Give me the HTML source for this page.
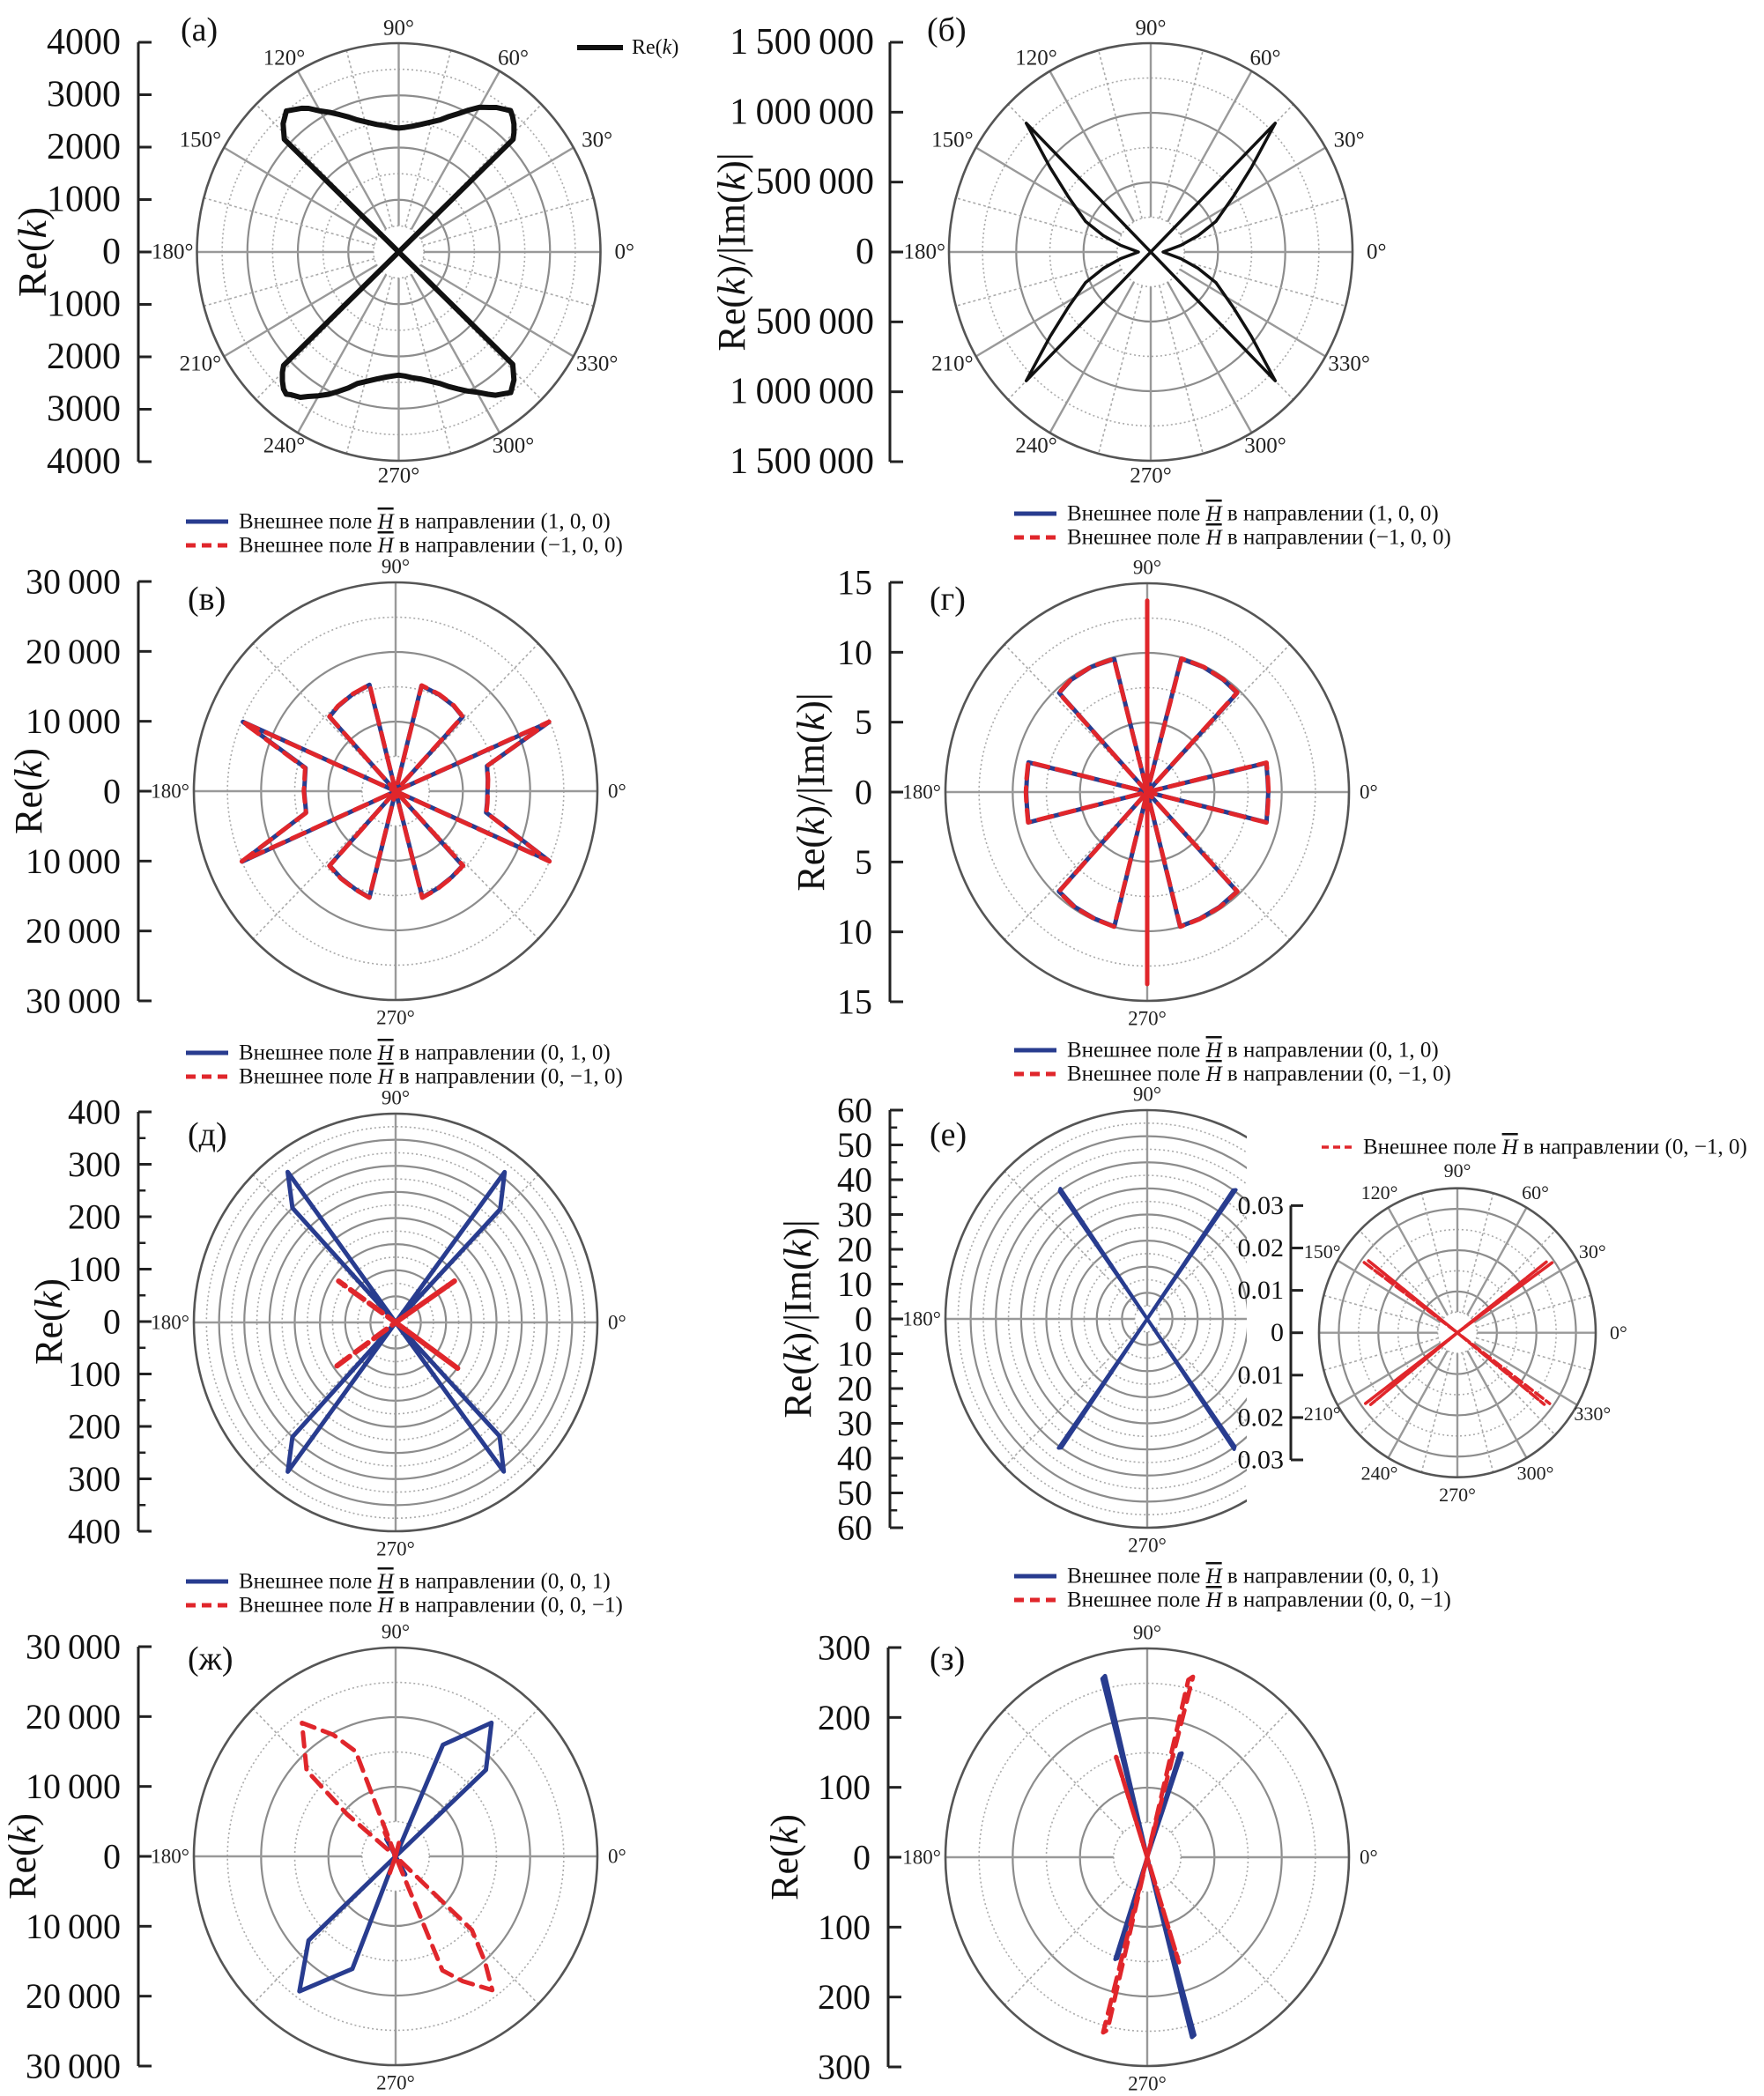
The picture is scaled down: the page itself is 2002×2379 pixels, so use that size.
<!DOCTYPE html>
<html><head><meta charset="utf-8"><title>Polar plots</title>
<style>
html,body{margin:0;padding:0;background:#fff;}
svg{display:block;font-family:"Liberation Serif",serif;}
</style></head>
<body>
<svg id="chart" xmlns="http://www.w3.org/2000/svg" width="2002" height="2379" viewBox="0 0 2002 2379">
<rect x="0" y="0" width="2002" height="2379" fill="#fff"/>
</svg>
<script>
// ---------- DATA ----------
// (а) Re(k)
const aAngles=[0,43.6,45,47,49,50.7,52,55,57,60,63,66,69,72,76,80,84,87,90,93,96,100,104,108,111,114,117,120,123,125,128,129.5,133,136.4,0,223.6,225,227,229,230.7,232,235,237,240,243,246,249,252,256,260,264,267,270,273,276,280,284,288,291,294,297,300,303,305,308,309.5,313,316.4,0];
const aRadii=[0,3130,3230,3350,3440,3500,3460,3380,3300,3200,3050,2900,2780,2660,2560,2480,2420,2390,2373,2390,2430,2480,2560,2660,2770,2880,3000,3120,3280,3360,3450,3500,3360,3130,0,3150,3260,3380,3480,3520,3470,3400,3300,3180,3060,2920,2790,2650,2550,2470,2410,2380,2360,2380,2420,2470,2550,2650,2760,2870,2990,3100,3250,3350,3440,3490,3350,3120,0];
const aTicks=[4000,3000,2000,1000,0,-1000,-2000,-3000,-4000];
const aTickLabels=['4000','3000','2000','1000','0','1000','2000','3000','4000'];
// (б) Re(k)/|Im(k)|
const bAngles=[0,45,39,33.1,24.4,18.5,12,0,348,341.5,335.6,326.9,321,315,0,135,141,146.9,155.6,161.5,168,180,192,198.5,204.4,213.1,219,225,0];
const bRadii=[0,1309000,962000,735000,532000,373000,230000,92000,230000,373000,532000,735000,962000,1309000,0,1309000,962000,735000,532000,373000,230000,92000,230000,373000,532000,735000,962000,1309000,0];
const bTicks=[1500000,1000000,500000,0,-500000,-1000000,-1500000];
const bTickLabels=['1\u2009500\u2009000','1\u2009000\u2009000','500\u2009000','0','500\u2009000','1\u2009000\u2009000','1\u2009500\u2009000'];
// (в)
const vBlueAngles=[0,23.5,14.9,7,0,353,347.2,336.3,0,47,55,65,75.8,0,104.3,115,125,132.6,0,156.3,166,180,193,203.9,0,227.4,237,247,255.7,0,284.6,294,304,313,0];
const vBlueRadii=[0,24800,14060,13800,13670,13700,13800,24950,0,14600,15000,15300,15630,0,15770,15300,14900,14530,0,24800,13800,13600,13660,24950,0,14530,14900,15300,15770,0,15790,15300,14900,14620,0];
const vRedAngles=[0,23.6,15,7,0,353,347,336.2,0,47.2,55,65,75.7,0,104.2,115,125,132.5,0,156.4,166.2,180,193.2,203.8,0,227.5,237,247,255.6,0,284.5,294,304,313.2,0];
const vRedRadii=[0,24900,14100,13850,13700,13750,13850,25000,0,14650,15050,15350,15680,0,15800,15350,14950,14560,0,24850,13850,13650,13700,25000,0,14560,14950,15350,15800,0,15820,15350,14950,14650,0];
const vTicks=[30000,20000,10000,0,-10000,-20000,-30000];
const vTickLabels=['30\u2009000','20\u2009000','10\u2009000','0','10\u2009000','20\u2009000','30\u2009000'];
// (г)
const gBlueAngles=[0,13.3,6,0,354,346.2,0,46.8,55,65,75.2,0,90,0,104.4,115,125,132.6,0,166.4,174,180,186,193.9,0,227.4,237,247,255.8,0,270,0,284.2,293,303,313.1,0];
const gBlueRadii=[0,9.1,9.0,9.0,9.0,9.13,0,9.77,9.85,9.9,9.9,0,13.67,0,9.87,9.9,9.85,9.67,0,9.08,9.0,9.0,9.0,9.1,0,9.7,9.85,9.9,9.96,0,13.7,0,9.96,9.9,9.85,9.78,0];
const gRedAngles=[0,13.4,6,0,354,346.1,0,46.9,55,65,75.1,0,90,0,104.5,115,125,132.7,0,166.3,174,180,186,193.8,0,227.5,237,247,255.7,0,270,0,284.3,293,303,313.2,0];
const gRedRadii=[0,9.12,9.02,9.02,9.02,9.15,0,9.8,9.88,9.92,9.93,0,13.75,0,9.9,9.92,9.88,9.7,0,9.1,9.02,9.02,9.02,9.12,0,9.72,9.88,9.92,9.98,0,13.8,0,9.98,9.92,9.88,9.8,0];
const gTicks=[15,10,5,0,-5,-10,-15];
const gTickLabels=['15','10','5','0','5','10','15'];
// (д)
const dBlueAngles=[0,46.3,53.1,0,126.6,133,0,227,233.2,0,306.9,313.4,0];
const dBlueRadii=[0,300,360,0,359,300,0,300,357,0,357,300,0];
const dRedAngles=[0,34.2,0,145,0,215.6,0,324.5,0];
const dRedRadii=[0,141,0,138,0,150,0,151,0];
const dTicks=[400,300,200,100,0,-100,-200,-300,-400];
const dTickLabels=['400','300','200','100','0','100','200','300','400'];
// (е)
const eBlueAngles=[0,54.6,55.4,0,124.6,125.4,0,234.6,235.4,0,304.6,305.4,0];
const eBlueRadii=[0,45.5,45,0,45.5,45,0,45.5,45,0,45.5,45,0];
const eTicks=[60,50,40,30,20,10,0,-10,-20,-30,-40,-50,-60];
const eTickLabels=['60','50','40','30','20','10','0','10','20','30','40','50','60'];
const eInsetRedAngles1=[0,35.3,0,144.2,0,216.4,0,323.7,0];
const eInsetRedRadii1=[0,0.0295,0,0.0295,0,0.029,0,0.029,0];
const eInsetRedAngles2=[0,37.3,0,142.2,0,218.4,0,321.7,0];
const eInsetRedRadii2=[0,0.0285,0,0.0285,0,0.028,0,0.028,0];
const eInsetTicks=[0.03,0.02,0.01,0,-0.01,-0.02,-0.03];
const eInsetTickLabels=['0.03','0.02','0.01','0','0.01','0.02','0.03'];
// (ж)
const zhBlueAngles=[0,42.8,53.4,66.3,0,119,0,223,233.6,248.3,0,299,0];
const zhBlueRadii=[0,18300,23900,17500,0,2850,0,17700,24100,17400,0,2950,0];
const zhRedAngles=[0,111.5,118,126,137,140,0,250,0,293,299,306.8,311.3,317,0,76,0,115,0];
const zhRedRadii=[0,16200,19800,23700,18100,9400,0,2800,0,17800,20500,24000,20100,15500,0,2000,0,3800,0];
const zhTicks=[30000,20000,10000,0,-10000,-20000,-30000];
const zhTickLabels=['30\u2009000','20\u2009000','10\u2009000','0','10\u2009000','20\u2009000','30\u2009000'];
// (з)
const zBlueAngles=[0,103.5,104.6,0,71,72,0,252,253,0,284.4,285.4,0];
const zBlueRadii=[0,268,265,0,158,156,0,154,152,0,267,265,0];
const zRedAngles=[0,75.3,76.5,0,107.8,0,255.4,256.6,0,287.3,0];
const zRedRadii=[0,268,262,0,153,0,260,255,0,158,0];
const zTicks=[300,200,100,0,-100,-200,-300];
const zTickLabels=['300','200','100','0','100','200','300'];

// ---------- HELPERS ----------
const NS='http://www.w3.org/2000/svg';
const svg=document.getElementById('chart');
function el(tag,attrs,parent){const e=document.createElementNS(NS,tag);for(const k in attrs)e.setAttribute(k,attrs[k]);(parent||svg).appendChild(e);return e;}
function pxy(p,a,r){const f=r/p.rmax,t=a*Math.PI/180;return [p.cx+f*p.rx*Math.cos(t),p.cy-f*p.ry*Math.sin(t)];}
const BLUE='#283c8f',RED='#e0262b';

function drawGrid(p,name){
  const g=el('g',{});
  
  
  p.dot.forEach(f=>{const e=el('ellipse',{cx:p.cx,cy:p.cy,rx:p.rx*f,ry:p.ry*f,fill:'none',stroke:'#aaa','stroke-width':1.6,'stroke-dasharray':'2 3'},g);
    
    });
  p.solid.forEach(f=>{const e=el('ellipse',{cx:p.cx,cy:p.cy,rx:p.rx*f,ry:p.ry*f,fill:'none',stroke:'#8c8c8c','stroke-width':2.2},g);
    
    });
  p.dotSpokes.forEach(a=>{const t=a*Math.PI/180,s=p.spokeStart;
    const e=el('line',{x1:p.cx+p.rx*s*Math.cos(t),y1:p.cy-p.ry*s*Math.sin(t),x2:p.cx+p.rx*Math.cos(t),y2:p.cy-p.ry*Math.sin(t),stroke:'#aaa','stroke-width':1.6,'stroke-dasharray':'3 3'},g);
    
    });
  p.solidSpokes.forEach(a=>{const t=a*Math.PI/180,s=p.spokeStart;
    const e=el('line',{x1:p.cx+p.rx*s*Math.cos(t),y1:p.cy-p.ry*s*Math.sin(t),x2:p.cx+p.rx*Math.cos(t),y2:p.cy-p.ry*Math.sin(t),stroke:'#999','stroke-width':2.4},g);
    
    });
  const o=el('ellipse',{cx:p.cx,cy:p.cy,rx:p.rx,ry:p.ry,fill:'none',stroke:'#555','stroke-width':2.6},g);
  
  
}
function drawAngleLabels(p,full,fs,skip){
  const list=full?[0,30,60,90,120,150,180,210,240,270,300,330]:[0,90,180,270];
  list.forEach(a=>{
    if(skip&&skip.indexOf(a)>=0)return;
    let x,y,anchor='middle';const t=a*Math.PI/180;
    if(a===0){x=p.cx+p.rx+(full?16:12);y=p.cy;anchor='start';}
    else if(a===180){x=p.cx-p.rx-(full?4:5);y=p.cy;anchor='end';}
    else if(full){x=p.cx+(p.rx+p.lo)*Math.cos(t);y=p.cy-(p.ry+p.lov)*Math.sin(t);}
    else{x=p.cx;y=a===90?p.cy-p.ry-18:p.cy+p.ry+20;}
    const e=el('text',{x:x,y:y,'text-anchor':anchor,'dominant-baseline':'central','font-size':fs,fill:'#222'});
    e.textContent=a+'°';
    
    
  });
}
function drawSeries(p,angles,radii,style,name){
  const pts=angles.map((a,i)=>pxy(p,a,radii[i]).map(v=>v.toFixed(1)).join(',')).join(' ');
  const e=el('polyline',Object.assign({points:pts,fill:'none','stroke-linejoin':'round','stroke-linecap':'round'},style));
  
  
}
function drawAxis(ax,vals,labels,vmax,name){
  const g=el('g',{});
  
  
  const line=el('line',{x1:ax.x,y1:ax.cy-ax.half,x2:ax.x,y2:ax.cy+ax.half,stroke:'#222','stroke-width':3},g);
  
  
  vals.forEach((v,i)=>{
    const y=ax.cy-v/vmax*ax.half;
    const tk=el('line',{x1:ax.x,y1:y,x2:ax.x+ax.tl,y2:y,stroke:'#222','stroke-width':3},g);
    
    
    const t=el('text',{x:ax.x-ax.gap,y:y,'text-anchor':'end','dominant-baseline':'central','font-size':ax.fs,fill:'#111'},g);
    t.textContent=labels[i];
    
    
    if(ax.minor&&i<vals.length-1){
      const y2=ax.cy-((v+vals[i+1])/2)/vmax*ax.half;
      const m=el('line',{x1:ax.x,y1:y2,x2:ax.x+ax.tl*0.55,y2:y2,stroke:'#222','stroke-width':2.5},g);
      
      
    }
  });
}
function yTitle(x,cy,html,fs,name){
  const e=el('text',{x:x,y:cy,transform:'rotate(-90 '+x+' '+cy+')','text-anchor':'middle','font-size':fs,fill:'#111'});
  e.innerHTML=html;
  
  
}
function panelLabel(x,y,txt,name){
  const e=el('text',{x:x,y:y,'font-size':38,fill:'#111'});
  e.textContent=txt;
  
  
}
function legendEntry(x,y,color,dashed,dirText,name){
  const g=el('g',{});
  
  
  const l=el('line',Object.assign({x1:x,y1:y,x2:x+48,y2:y,stroke:color,'stroke-width':5},dashed?{'stroke-dasharray':'11 7'}:{}),g);
  
  
  const t=el('text',{x:x+60,y:y,'dominant-baseline':'central','font-size':25,fill:'#111'},g);
  t.innerHTML='Внешнее поле <tspan font-style="italic" text-decoration="overline">H</tspan> в направлении '+dirText;
  
  
}

const K='Re(<tspan font-style="italic">k</tspan>)';
const KR='Re(<tspan font-style="italic">k</tspan>)/|Im(<tspan font-style="italic">k</tspan>)|';
const eighth={solid:[0.25,0.5,0.75],dot:[0.125,0.375,0.625,0.875]};
const sixth={solid:[1/3,2/3],dot:[1/6,0.5,5/6]};
const dense={solid:[0.125,0.25,0.375,0.5,0.625,0.75,0.875],dot:[0.0625,0.1875,0.3125,0.4375,0.5625,0.6875,0.8125,0.9375]};
const spokes30={solidSpokes:[0,30,60,90,120,150,180,210,240,270,300,330],dotSpokes:[15,45,75,105,135,165,195,225,255,285,315,345]};
const spokes90={solidSpokes:[0,90,180,270],dotSpokes:[45,135,225,315]};
function mk(cx,cy,rmax,rings,sp,start){return Object.assign({cx:cx,cy:cy,rx:229,ry:237,rmax:rmax,spokeStart:start,lo:31,lov:17},rings,sp);}

// ---------- (а) ----------
const pA=mk(452.5,286,4000,eighth,spokes30,0.125);
drawGrid(pA,'panel-a');drawAngleLabels(pA,true,25);
drawSeries(pA,aAngles,aRadii,{stroke:'#111','stroke-width':6},'series-re-k');
drawAxis({x:157,cy:286,half:238,tl:15,gap:20,fs:42},aTicks,aTickLabels,4000,'y-axis-a');
yTitle(52,286,K,46,'y-axis-title-a');
panelLabel(205,46,'(а)','panel-label-a');
{const l=el('line',{x1:655,y1:54,x2:707,y2:54,stroke:'#111','stroke-width':6});


const t=el('text',{x:717,y:54,'dominant-baseline':'central','font-size':24,fill:'#111'});t.innerHTML=K;

}

// ---------- (б) ----------
const pB=mk(1306,286,1500000,sixth,spokes30,1/6);
drawGrid(pB,'panel-b');drawAngleLabels(pB,true,25);
drawSeries(pB,bAngles,bRadii,{stroke:'#111','stroke-width':3.5},'series-ratio');
drawAxis({x:1010,cy:286,half:238,tl:15,gap:18,fs:42},bTicks,bTickLabels,1500000,'y-axis-b');
yTitle(845,286,KR,44,'y-axis-title-b');
panelLabel(1052,46,'(б)','panel-label-b');
legendEntry(211,592,BLUE,false,'(1, 0, 0)','legend-a-blue');
legendEntry(211,619,RED,true,'(−1, 0, 0)','legend-a-red');
legendEntry(1151,583,BLUE,false,'(1, 0, 0)','legend-b-blue');
legendEntry(1151,610,RED,true,'(−1, 0, 0)','legend-b-red');

const blueS={stroke:BLUE,'stroke-width':5};
const redS={stroke:RED,'stroke-width':5,'stroke-dasharray':'16 10'};

// ---------- (в) ----------
const pV=mk(449,898,30000,sixth,spokes90,1/6);
drawGrid(pV,'panel-v');drawAngleLabels(pV,false,23);
drawSeries(pV,vBlueAngles,vBlueRadii,blueS,'series-v-blue');
drawSeries(pV,vRedAngles,vRedRadii,redS,'series-v-red');
drawAxis({x:157,cy:898,half:238,tl:15,gap:20,fs:40},vTicks,vTickLabels,30000,'y-axis-v');
yTitle(47,898,K,44,'y-axis-title-v');
panelLabel(213,692,'(в)','panel-label-v');

// ---------- (г) ----------
const pG=mk(1302,899,15,sixth,spokes90,1/6);
drawGrid(pG,'panel-g');drawAngleLabels(pG,false,23);
drawSeries(pG,gBlueAngles,gBlueRadii,blueS,'series-g-blue');
drawSeries(pG,gRedAngles,gRedRadii,redS,'series-g-red');
drawAxis({x:1010,cy:899,half:238,tl:15,gap:20,fs:40},gTicks,gTickLabels,15,'y-axis-g');
yTitle(935,899,KR,44,'y-axis-title-g');
panelLabel(1055,692,'(г)','panel-label-g');
legendEntry(211,1195,BLUE,false,'(0, 1, 0)','legend-v-blue');
legendEntry(211,1222,RED,true,'(0, −1, 0)','legend-v-red');
legendEntry(1151,1192,BLUE,false,'(0, 1, 0)','legend-g-blue');
legendEntry(1151,1219,RED,true,'(0, −1, 0)','legend-g-red');

// ---------- (д) ----------
const pD=mk(449,1501,400,dense,spokes90,0.0625);
drawGrid(pD,'panel-d');drawAngleLabels(pD,false,23);
drawSeries(pD,dBlueAngles,dBlueRadii,blueS,'series-d-blue');
drawSeries(pD,dRedAngles,dRedRadii,{stroke:RED,'stroke-width':6,'stroke-dasharray':'16 10'},'series-d-red');
drawAxis({x:157,cy:1500,half:238,tl:15,gap:20,fs:40,minor:true},dTicks,dTickLabels,400,'y-axis-d');
yTitle(70,1500,K,44,'y-axis-title-d');
panelLabel(213,1300,'(д)','panel-label-d');

// ---------- (е) ----------
const pE=mk(1302,1497,60,dense,spokes90,0.0625);
drawGrid(pE,'panel-e');drawAngleLabels(pE,false,23);
drawSeries(pE,eBlueAngles,eBlueRadii,{stroke:BLUE,'stroke-width':4},'series-e-blue');
drawAxis({x:1010,cy:1497,half:237,tl:15,gap:20,fs:40,minor:true},eTicks,eTickLabels,60,'y-axis-e');
yTitle(920,1497,KR,44,'y-axis-title-e');
panelLabel(1055,1300,'(е)','panel-label-e');
{const r=el('rect',{x:1415,y:1250,width:587,height:515,fill:'#fff'});

}
const pI={cx:1654,cy:1512.7,rx:157,ry:164,rmax:0.035,spokeStart:0.005/0.035,lo:20,lov:20,
  solid:[0.01/0.035,0.02/0.035,0.03/0.035],dot:[0.005/0.035,0.015/0.035,0.025/0.035],
  solidSpokes:spokes30.solidSpokes,dotSpokes:spokes30.dotSpokes};
drawGrid(pI,'inset');drawAngleLabels(pI,true,22,[180]);
drawSeries(pI,eInsetRedAngles1,eInsetRedRadii1,{stroke:RED,'stroke-width':3.5,'stroke-dasharray':'9 6'},'series-inset-red-1');
drawSeries(pI,eInsetRedAngles2,eInsetRedRadii2,{stroke:RED,'stroke-width':3.5,'stroke-dasharray':'9 6'},'series-inset-red-2');
drawAxis({x:1465,cy:1512.7,half:144.3,tl:14,gap:8,fs:30},eInsetTicks,eInsetTickLabels,0.03,'inset-y-axis');
{const g=el('g',{});


const l=el('line',{x1:1500,y1:1302,x2:1537,y2:1302,stroke:RED,'stroke-width':3.5,'stroke-dasharray':'8 5'},g);


const t=el('text',{x:1547,y:1302,'dominant-baseline':'central','font-size':25,fill:'#111'},g);
t.innerHTML='Внешнее поле <tspan font-style="italic" text-decoration="overline">H</tspan> в направлении (0, −1, 0)';

}
legendEntry(211,1795,BLUE,false,'(0, 0, 1)','legend-d-blue');
legendEntry(211,1822,RED,true,'(0, 0, −1)','legend-d-red');
legendEntry(1151,1789,BLUE,false,'(0, 0, 1)','legend-e-blue');
legendEntry(1151,1816,RED,true,'(0, 0, −1)','legend-e-red');

// ---------- (ж) ----------
const pZh=mk(449,2107,30000,sixth,spokes90,1/6);
drawGrid(pZh,'panel-zh');drawAngleLabels(pZh,false,23);
drawSeries(pZh,zhBlueAngles,zhBlueRadii,blueS,'series-zh-blue');
drawSeries(pZh,zhRedAngles,zhRedRadii,redS,'series-zh-red');
drawAxis({x:157,cy:2107,half:238,tl:15,gap:20,fs:40},zhTicks,zhTickLabels,30000,'y-axis-zh');
yTitle(40,2107,K,44,'y-axis-title-zh');
panelLabel(213,1895,'(ж)','panel-label-zh');

// ---------- (з) ----------
const pZ=mk(1302,2108,300,sixth,spokes90,1/6);
drawGrid(pZ,'panel-z');drawAngleLabels(pZ,false,23);
drawSeries(pZ,zBlueAngles,zBlueRadii,{stroke:BLUE,'stroke-width':4.5},'series-z-blue');
drawSeries(pZ,zRedAngles,zRedRadii,redS,'series-z-red');
drawAxis({x:1008,cy:2108,half:238,tl:15,gap:20,fs:40},zTicks,zTickLabels,300,'y-axis-z');
yTitle(905,2108,K,44,'y-axis-title-z');
panelLabel(1055,1895,'(з)','panel-label-z');
</script>
</body></html>
